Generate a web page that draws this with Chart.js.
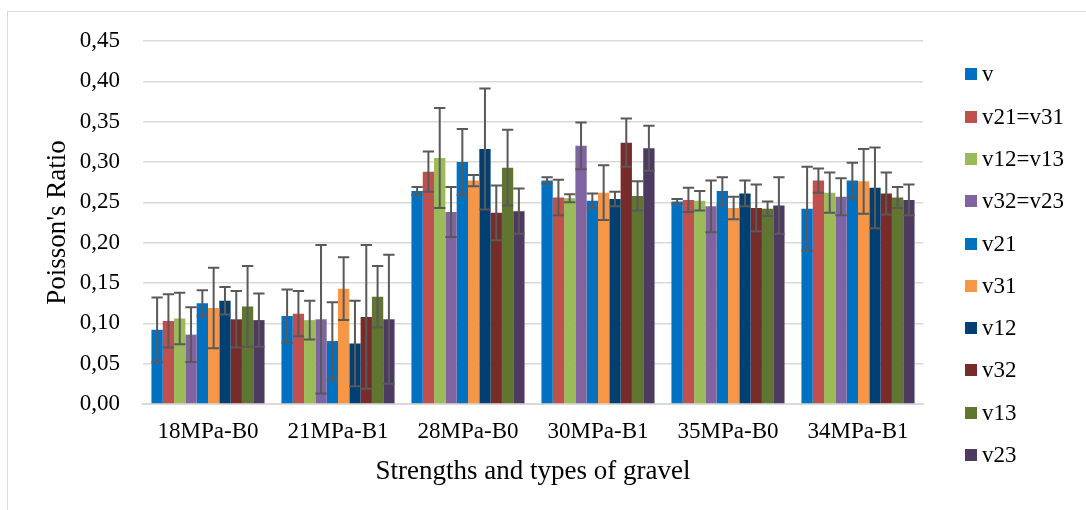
<!DOCTYPE html>
<html>
<head>
<meta charset="utf-8">
<script src="https://cdn.jsdelivr.net/npm/chart.js@4.4.1/dist/chart.umd.min.js"></script>
<style>
  html, body { margin: 0; padding: 0; background: #fff; }
  #wrap { position: relative; width: 1086px; height: 510px; overflow: hidden; }
  #frame { position: absolute; left: 7px; top: 11px; width: 1200px; height: 600px;
           border-left: 1.5px solid #d9d9d9; border-top: 1.5px solid #d9d9d9; }
  #myChart { position: absolute; left: 0; top: 0; }
  #legend { position: absolute; left: 965px; top: 0; font-family: "Liberation Serif", "Times New Roman", serif;
            font-size: 23px; color: #000; }
  .legItem { position: absolute; left: 0; white-space: nowrap; height: 26px; line-height: 26px; }
  .legBox { position: absolute; left: 0; top: 7px; width: 12px; height: 12px; }
  .legText { position: absolute; left: 17px; top: 0; }
</style>
</head>
<body>
<div id="wrap">
  <div id="frame"></div>
  <canvas id="myChart" width="1086" height="510"></canvas>
  <div id="legend"></div>
</div>
<script>
// categories
const categories = ['18MPa-B0', '21MPa-B1', '28MPa-B0', '30MPa-B1', '35MPa-B0', '34MPa-B1'];

// series names and colours
const seriesNames = ['v', 'v21=v31', 'v12=v13', 'v32=v23', 'v21', 'v31', 'v12', 'v32', 'v13', 'v23'];
const seriesColors = ['#0070C0', '#C0504D', '#9BBB59', '#8064A2', '#0070C0', '#F79646', '#003F72', '#772C2A', '#5F7530', '#4D3A60'];

// mean values (one per category)
const vValues      = [0.092, 0.109, 0.264, 0.277, 0.251, 0.242];
const v21v31Values = [0.103, 0.112, 0.288, 0.256, 0.253, 0.277];
const v12v13Values = [0.106, 0.104, 0.305, 0.255, 0.252, 0.262];
const v32v23Values = [0.086, 0.105, 0.238, 0.320, 0.245, 0.257];
const v21Values    = [0.125, 0.078, 0.300, 0.252, 0.264, 0.277];
const v31Values    = [0.119, 0.143, 0.277, 0.262, 0.243, 0.276];
const v12Values    = [0.128, 0.075, 0.316, 0.254, 0.261, 0.268];
const v32Values    = [0.105, 0.108, 0.237, 0.324, 0.243, 0.261];
const v13Values    = [0.121, 0.133, 0.293, 0.258, 0.242, 0.256];
const v23Values    = [0.104, 0.105, 0.239, 0.317, 0.246, 0.253];

// error bar half-widths (+/-)
const vErrors      = [0.040, 0.033, 0.005, 0.004, 0.003, 0.052];
const v21v31Errors = [0.033, 0.028, 0.025, 0.022, 0.015, 0.015];
const v12v13Errors = [0.032, 0.024, 0.062, 0.005, 0.012, 0.025];
const v32v23Errors = [0.034, 0.092, 0.031, 0.029, 0.032, 0.023];
const v21Errors    = [0.016, 0.048, 0.041, 0.009, 0.017, 0.022];
const v31Errors    = [0.050, 0.039, 0.007, 0.034, 0.014, 0.040];
const v12Errors    = [0.017, 0.053, 0.075, 0.009, 0.016, 0.050];
const v32Errors    = [0.035, 0.089, 0.034, 0.030, 0.029, 0.026];
const v13Errors    = [0.050, 0.038, 0.047, 0.018, 0.009, 0.013];
const v23Errors    = [0.033, 0.080, 0.028, 0.028, 0.035, 0.019];

// y axis ticks
const yTicks = [0, 0.05, 0.10, 0.15, 0.20, 0.25, 0.30, 0.35, 0.40, 0.45];

const allValues = [vValues, v21v31Values, v12v13Values, v32v23Values, v21Values, v31Values, v12Values, v32Values, v13Values, v23Values];
const allErrors = [vErrors, v21v31Errors, v12v13Errors, v32v23Errors, v21Errors, v31Errors, v12Errors, v32Errors, v13Errors, v23Errors];

const serif = '"Liberation Serif", "Times New Roman", serif';

// draws the error bars on top of each bar
const errorBars = {
    id: 'errorBars',
    afterDatasetsDraw(chart) {
        const ctx = chart.ctx;
        const yScale = chart.scales.y;
        ctx.save();
        ctx.strokeStyle = '#595959';
        ctx.lineWidth = 2;
        chart.data.datasets.forEach((ds, i) => {
            const meta = chart.getDatasetMeta(i);
            meta.data.forEach((bar, j) => {
                const err = ds.errors[j];
                const v = ds.data[j];
                const top = yScale.getPixelForValue(v + err);
                const bottom = yScale.getPixelForValue(v - err);
                const half = bar.width / 2;
                ctx.beginPath();
                ctx.moveTo(bar.x, top);
                ctx.lineTo(bar.x, bottom);
                ctx.moveTo(bar.x - half, top);
                ctx.lineTo(bar.x + half, top);
                ctx.moveTo(bar.x - half, bottom);
                ctx.lineTo(bar.x + half, bottom);
                ctx.stroke();
            });
        });
        ctx.restore();
    }
};

const ctx = document.getElementById('myChart');
let myChart = new Chart(ctx, {
    type: 'bar',
    data: {
        labels: categories,
        datasets: seriesNames.map((name, i) => ({
            label: name,
            data: allValues[i],
            errors: allErrors[i],
            backgroundColor: seriesColors[i],
            borderWidth: 0,
            categoryPercentage: 0.87,
            barPercentage: 1.0
        }))
    },
    options: {
        responsive: false,
        animation: false,
        devicePixelRatio: 1,
        layout: { padding: { left: 30, right: 163, top: 41, bottom: 22 } },
        plugins: {
            legend: { display: false },
            tooltip: { enabled: false }
        },
        scales: {
            x: {
                grid: { display: false, drawTicks: false },
                border: { display: true, color: '#d9d9d9', width: 2 },
                ticks: { color: '#000', font: { family: serif, size: 23 }, padding: 14 },
                title: {
                    display: true, text: 'Strengths and types of gravel', color: '#000',
                    font: { family: serif, size: 27 }, padding: { top: -4, bottom: 0 }
                }
            },
            y: {
                min: 0,
                max: 0.45,
                afterBuildTicks(scale) { scale.ticks = yTicks.map(v => ({ value: v })); },
                afterFit(scale) { scale.width = 113; },
                grid: { color: '#d9d9d9', lineWidth: 1.5, drawTicks: false },
                border: { display: false },
                ticks: {
                    color: '#000', font: { family: serif, size: 23 }, padding: 23,
                    callback: (v) => Number(v).toFixed(2).replace('.', ',')
                },
                title: {
                    display: true, text: "Poisson's Ratio", color: '#000',
                    font: { family: serif, size: 27 }, padding: { top: 12, bottom: 5 }
                }
            }
        }
    },
    plugins: [errorBars]
});

// legend on the right
const legend = document.getElementById('legend');
seriesNames.forEach((name, i) => {
    const item = document.createElement('div');
    item.className = 'legItem';
    item.style.top = (74.3 + i * 42.3 - 13) + 'px';
    item.innerHTML = '<span class="legBox" style="background:' + seriesColors[i] + '"></span><span class="legText">' + name + '</span>';
    legend.appendChild(item);
});
</script>
</body>
</html>
